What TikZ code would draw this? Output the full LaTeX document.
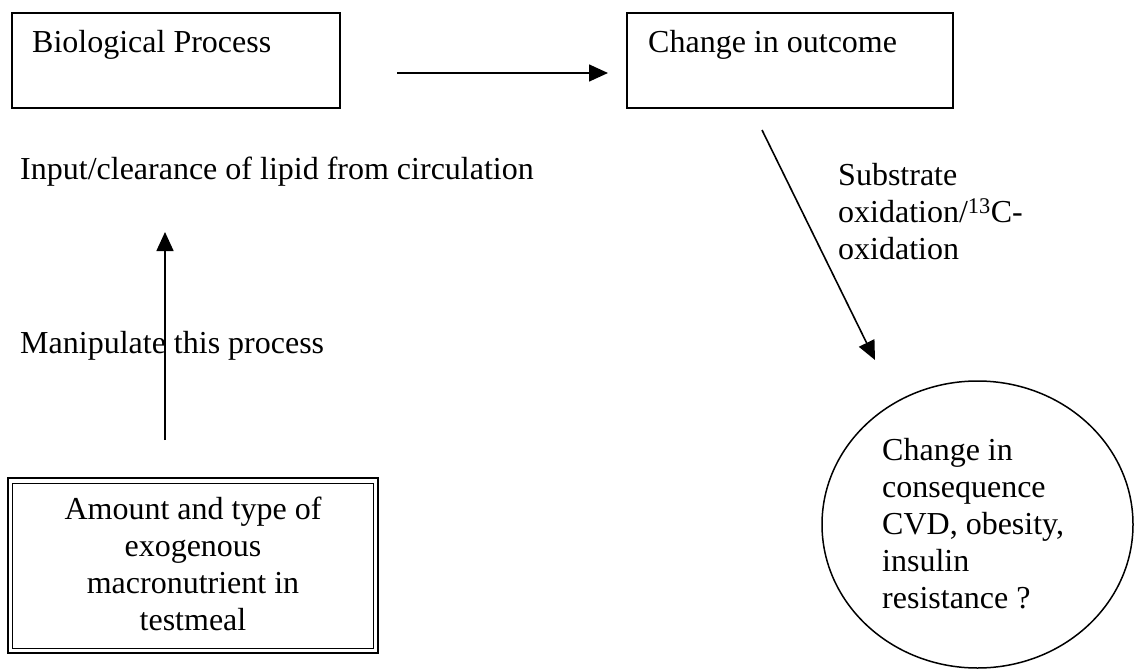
\documentclass[tikz,border=0pt]{standalone}
\usepackage{fontspec}
\setmainfont{Liberation Serif}
\usetikzlibrary{arrows.meta,shapes.geometric}
\begin{document}
\begin{tikzpicture}[x=1pt,y=-1pt,
  every node/.style={font=\fontsize{32}{37}\selectfont},
  txt/.style={inner sep=0pt, align=left},
  boxshape/.style={draw, line width=1.5pt, rectangle, inner sep=0pt},
  link/.style={line width=1.6pt, -{Triangle[length=19pt,width=17pt]}}]
\useasboundingbox (0,0) rectangle (1135,669);

% upper boxes
\node[boxshape, minimum width=328pt, minimum height=95pt] (bio) at (176,60.5) {};
\node[txt, anchor=base west] (biot) at (32,53) {Biological Process};
\node[boxshape, minimum width=326pt, minimum height=95pt] (out) at (790,60.5) {};
\node[txt, anchor=base west] (outt) at (648,53) {Change in outcome};

% free labels
\node[txt, anchor=base west] (input) at (20,179) {Input/clearance of lipid from circulation};
\node[txt, anchor=base west] (manip) at (20,353) {Manipulate this process};
\node[txt, anchor=north west] (subs) at (838,163)
  {Substrate\\oxidation/\textsuperscript{13}C-\\oxidation};

% test meal box with double frame
\node[draw, line width=2.4pt, rectangle, minimum width=370pt, minimum height=175pt, inner sep=0pt]
  (meal) at (193,565.5) {};
\draw[line width=1.4pt] ([shift={(5.5,6.5)}]meal.north west) rectangle ([shift={(-6,-6)}]meal.south east);
\node[txt, align=center, anchor=north] (mealt) at (193,497)
  {Amount and type of\\exogenous\\macronutrient in\\testmeal};

% consequence ellipse
\node[draw, line width=1.5pt, ellipse, minimum width=311pt, minimum height=287pt, inner sep=0pt]
  (cons) at (977.5,524.5) {};
\node[txt, anchor=north west] (const) at (882,438)
  {Change in\\consequence\\CVD, obesity,\\insulin\\resistance ?};

% connectors
\coordinate (h1) at (397,73);
\coordinate (h2) at (608,73);
\coordinate (v1) at (165,440);
\coordinate (v2) at (165,232);
\coordinate (d1) at (762,130);
\coordinate (d2) at (875,360);
\draw[link] (h1) -- (h2);
\draw[link] (v1) -- (v2);
\draw[link] (d1) -- (d2);
\end{tikzpicture}
\end{document}
